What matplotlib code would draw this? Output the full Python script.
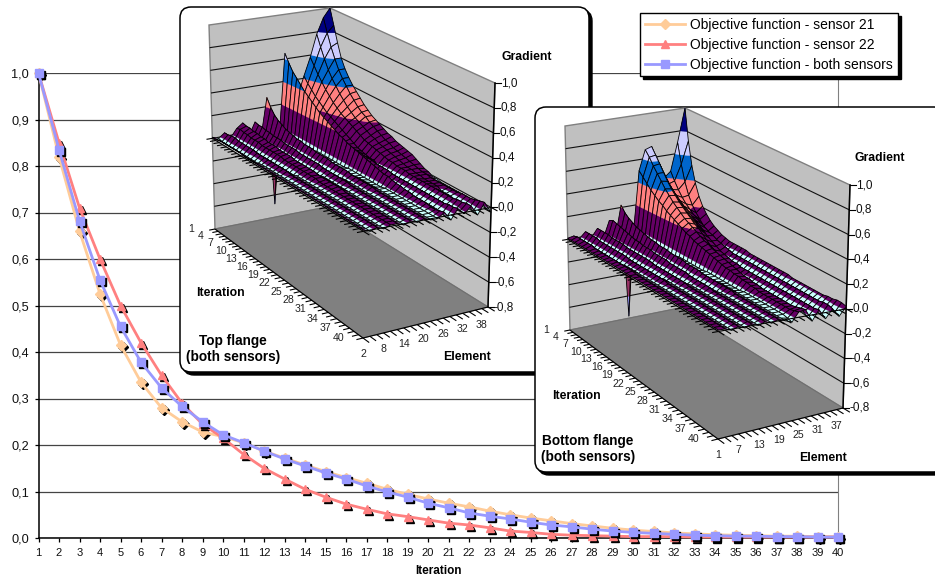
import matplotlib
matplotlib.use("Agg")
import matplotlib.pyplot as plt
import numpy as np
from matplotlib.collections import PolyCollection, LineCollection
from matplotlib.patches import FancyBboxPatch, Polygon
from matplotlib.transforms import offset_copy

plt.rcParams['font.family'] = ['Liberation Sans', 'DejaVu Sans']

iterations = list(range(1, 41))
sensor_21 = [1.0,.82,.66,.525,.415,.335,.28,.25,.228,.218,.205,.187,.172,.157,.143,.13,.118,.105,.094,.084,
             .075,.067,.058,.05,.043,.037,.031,.026,.021,.017,.014,.011,.009,.007,.006,.005,.004,.004,.003,.003]
sensor_22 = [1.0,.85,.71,.6,.5,.42,.35,.29,.245,.215,.18,.15,.127,.105,.088,.073,.062,.052,.046,.039,
             .032,.028,.022,.015,.012,.008,.006,.005,.004,.003,.003,.003,.002,.002,.002,.002,.002,.002,.002,.002]
both_sensors = [1.0,.835,.682,.555,.455,.378,.323,.283,.25,.222,.205,.187,.17,.155,.14,.127,.112,.099,.088,.075,
                .065,.054,.047,.041,.034,.028,.024,.019,.015,.012,.01,.008,.006,.005,.004,.004,.003,.003,.002,.002]
series_names = ['Objective function - sensor 21', 'Objective function - sensor 22', 'Objective function - both sensors']
y_ticks = [0, .1, .2, .3, .4, .5, .6, .7, .8, .9, 1.0]
z_ticks = [-.8, -.6, -.4, -.2, 0, .2, .4, .6, .8, 1.0]
top_element_labels = [2, 8, 14, 20, 26, 32, 38]
bottom_element_labels = [1, 7, 13, 19, 25, 31, 37]
iteration_labels = [1, 4, 7, 10, 13, 16, 19, 22, 25, 28, 31, 34, 37, 40]

# gradient surfaces, hundredths: one row per element, one value per iteration
top_flange = [
 [1,1,2,2,2,2,2,2,2,1, 1,1,1,1,1,1,1,1,1,1, 1,1,1,1,1,1,1,1,1,1, 1,1,1,1,1,1,1,1,1,1],
 [-1,-2,-2,-2,-2,-2,-2,-2,-2,-2, -2,-2,-1,-1,-1,-1,-1,-1,-1,-1, -1,-1,-1,-1,-1,-1,-1,-1,-1,-1, -1,-1,-1,-1,-1,-1,-1,-1,-1,-1],
 [3,3,4,4,3,3,3,3,3,2, 2,2,2,2,2,2,2,2,1,1, 1,1,1,1,1,1,1,1,1,1, 1,1,1,1,1,1,1,1,1,1],
 [-2,-3,-3,-3,-3,-3,-3,-2,-2,-2, -2,-2,-2,-2,-2,-2,-2,-2,-1,-1, -1,-1,-1,-1,-1,-1,-1,-1,-1,-1, -1,-1,-1,-1,-1,-1,-1,-1,-1,-1],
 [5,6,5,5,4,4,4,3,3,3, 3,3,3,2,2,2,2,2,2,2, 2,2,1,1,1,1,1,1,1,1, 1,1,1,1,1,1,1,1,1,1],
 [9,8,8,7,7,6,6,5,5,5, 4,4,4,4,3,3,3,3,3,3, 2,2,2,2,2,2,2,1,1,1, 1,1,1,1,1,1,1,1,1,1],
 [-3,-3,-3,-3,-3,-3,-3,-3,-3,-3, -2,-2,-2,-2,-2,-2,-2,-2,-2,-2, -1,-1,-1,-1,-1,-1,-1,-1,-1,-1, -1,-1,-1,-1,-1,-1,-1,-1,-1,-1],
 [8,7,7,6,6,5,5,5,4,4, 4,4,3,3,3,3,3,3,2,2, 2,2,2,2,2,1,1,1,1,1, 1,1,1,1,1,1,1,1,1,1],
 [-4,-4,-4,-4,-4,-3,-3,-3,-3,-3, -3,-3,-3,-2,-2,-2,-2,-2,-2,-2, -2,-2,-1,-1,-1,-1,-1,-1,-1,-1, -1,-1,-1,-1,-1,-1,-1,-1,-1,-1],
 [28,21,16,13,11,9,8,7,6,6, 5,5,5,4,4,4,4,3,3,3, 3,3,2,2,2,2,2,2,1,1, 1,1,1,1,1,1,1,1,1,1],
 [-68,-10,-5,-4,-4,-3,-3,-3,-3,-3, -3,-2,-2,-2,-2,-2,-2,-2,-2,-2, -2,-2,-1,-1,-1,-1,-1,-1,-1,-1, -1,-1,-1,-1,-1,-1,-1,-1,-1,-1],
 [-3,-3,-4,-4,-4,-4,-4,-4,-4,-4, -3,-3,-3,-3,-3,-3,-3,-3,-2,-2, -2,-2,-2,-2,-2,-2,-2,-1,-1,-1, -1,-1,-1,-1,-1,-1,-1,-1,-1,-1],
 [65,58,52,48,44,40,37,34,31,28, 26,24,22,20,18,17,15,14,13,12, 11,10,9,8,7,6,6,5,4,4, 3,3,2,2,2,2,1,1,2,3],
 [-5,-5,-5,-5,-5,-5,-5,-4,-4,-4, -4,-4,-4,-4,-3,-3,-3,-3,-3,-3, -3,-3,-2,-2,-2,-2,-2,-2,-2,-2, -2,-2,-2,-2,-2,-2,-2,-3,-4,-4],
 [25,22,20,18,16,14,12,11,10,9, 8,7,6,6,5,5,5,4,4,4, 3,3,3,3,2,2,2,2,2,2, 2,2,2,2,2,2,2,3,3,4],
 [42,37,33,29,26,23,20,18,16,14, 12,10,8,6,4,3,2,1,1,-1, -1,-2,-2,-2,-2,-2,-2,-2,-2,-2, -2,-2,-2,-2,-2,-2,-2,-2,-1,-1],
 [58,52,46,41,36,32,28,25,22,20, 18,16,14,12,10,9,8,7,6,5, 4,4,3,3,3,2,2,2,2,2, 2,2,2,2,2,2,3,3,4,4],
 [78,68,59,51,45,40,35,31,27,24, 21,19,17,15,13,12,10,9,8,7, 6,5,4,3,3,2,2,1,1,1, 1,-1,-1,-1,-2,-2,-2,-3,-3,-4],
 [92,80,69,60,52,46,41,36,32,28, 25,23,20,18,16,14,12,11,9,8, 7,6,5,4,3,2,2,1,1,1, 1,1,1,1,2,2,2,3,4,5],
 [100,86,72,60,52,46,41,37,33,29, 26,23,21,19,17,15,14,12,11,10, 9,8,6,4,2,1,-1,-1,-2,-2, -2,-2,-2,-2,-3,-3,-3,-3,-3,-4],
]
bottom_flange = [
 [1,1,1,1,1,1,1,1,1,1, 1,1,1,1,1,1,1,1,1,1, 1,1,1,1,1,1,1,1,1,1, 1,1,1,1,1,1,1,1,1,1],
 [2,3,3,3,3,3,2,2,2,2, 2,2,2,2,2,2,2,1,1,1, 1,1,1,1,1,1,1,1,1,1, 1,1,1,1,1,1,1,1,1,1],
 [-1,-2,-2,-2,-2,-2,-2,-2,-2,-2, -2,-2,-2,-1,-1,-1,-1,-1,-1,-1, -1,-1,-1,-1,-1,-1,-1,-1,-1,-1, -1,-1,-1,-1,-1,-1,-1,-1,-1,-1],
 [4,4,4,4,3,3,3,3,3,3, 3,3,2,2,2,2,2,2,2,2, 2,2,1,1,1,1,1,1,1,1, 1,1,1,1,1,1,1,1,1,1],
 [-2,-3,-3,-3,-3,-3,-3,-3,-3,-3, -2,-2,-2,-2,-2,-2,-2,-2,-2,-2, -1,-1,-1,-1,-1,-1,-1,-1,-1,-1, -1,-1,-1,-1,-1,-1,-1,-1,-1,-1],
 [5,5,5,5,4,4,4,4,3,3, 3,3,3,3,3,2,2,2,2,2, 2,2,2,2,1,1,1,1,1,1, 1,1,1,1,1,1,1,1,1,1],
 [-4,-4,-4,-4,-3,-3,-3,-3,-3,-3, -3,-3,-3,-2,-2,-2,-2,-2,-2,-2, -2,-2,-2,-1,-1,-1,-1,-1,-1,-1, -1,-1,-1,-1,-1,-1,-1,-1,-1,-1],
 [10,12,11,10,9,8,7,6,6,5, 5,5,4,4,4,4,3,3,3,3, 3,2,2,2,2,2,2,1,1,1, 1,1,1,1,1,1,1,1,1,1],
 [-5,-5,-5,-5,-5,-5,-4,-4,-4,-4, -4,-4,-3,-3,-3,-3,-3,-3,-3,-2, -2,-2,-2,-2,-2,-2,-2,-1,-1,-1, -1,-1,-1,-1,-1,-1,-1,-1,-1,-1],
 [22,17,14,12,10,9,8,7,6,6, 5,5,5,4,4,4,4,3,3,3, 3,2,2,2,2,2,2,2,2,1, 1,1,1,1,1,1,1,1,1,1],
 [-78,-15,-6,-5,-4,-4,-4,-3,-3,-3, -3,-3,-3,-3,-2,-2,-2,-2,-2,-2, -2,-2,-2,-2,-1,-1,-1,-1,-1,-1, -1,-1,-1,-1,-1,-1,-1,-1,-1,-1],
 [-3,-3,-5,-5,-5,-5,-4,-4,-4,-4, -4,-4,-3,-3,-3,-3,-3,-3,-3,-2, -2,-2,-2,-2,-2,-2,-2,-2,-1,-1, -1,-1,-1,-1,-1,-1,-1,-1,-2,-3],
 [50,46,42,38,35,32,30,27,25,23, 21,19,17,16,14,13,12,11,10,9, 8,7,6,6,5,5,4,4,3,3, 2,2,2,2,2,2,2,2,3,4],
 [68,63,57,52,47,42,38,34,31,28, 25,23,21,19,17,15,14,12,11,10, 9,8,7,6,5,4,4,3,3,2, 2,2,2,2,2,2,2,3,4,5],
 [70,64,58,52,46,41,37,33,30,27, 24,21,19,16,13,10,8,5,3,2, 1,1,-1,-1,-2,-2,-2,-2,-2,-2, -2,-2,-2,-2,-3,-3,-3,-3,-4,-5],
 [55,50,45,40,36,32,28,25,22,20, 18,16,14,12,10,8,6,5,4,3, 3,2,2,2,2,2,2,2,2,2, 2,2,2,2,2,2,2,2,2,3],
 [40,36,33,30,27,24,22,19,17,15, 12,9,6,3,1,-1,-2,-2,-3,-3, -3,-3,-3,-3,-3,-3,-3,-3,-3,-2, -2,-2,-2,-2,-3,-3,-3,-3,-4,-5],
 [45,38,32,27,23,20,17,15,13,11, 9,8,6,5,4,3,2,2,2,2, 2,2,2,2,2,2,2,2,2,2, 2,2,2,2,2,2,2,3,3,2],
 [70,52,38,28,21,16,12,8,5,3, 1,-1,-2,-2,-3,-3,-3,-3,-3,-3, -3,-3,-3,-3,-3,-3,-3,-3,-3,-3, -3,-3,-3,-3,-3,-3,-3,-3,-4,-5],
 [100,72,52,38,28,21,16,12,9,7, 5,4,3,3,3,3,3,2,2,2, 2,2,2,2,2,2,2,1,1,1, 1,1,1,1,1,2,2,3,3,2],
]

band_edges = [-.8, -.6, -.4, -.2, 0, .2, .4, .6, .8, 1.0]
band_colors = ['#9999FF', '#993366', '#FFFFCC', '#CCFFFF', '#660066', '#FF8080', '#0066CC', '#CCCCFF', '#000080']
main_colors = ['#FFCC99', '#FF8080', '#9999FF']

W, H = 935, 580
fig = plt.figure(figsize=(W / 100, H / 100), dpi=100)
fig.patch.set_facecolor('white')


def px_rect(l, t, r, b):
    return [l / W, 1 - b / H, (r - l) / W, (b - t) / H]


# ---- main line chart
ax = fig.add_axes(px_rect(38.5, 73, 838, 538))
ax.set_xlim(1, 40)
ax.set_ylim(0, 1)
for s in ['top']:
    ax.spines[s].set_visible(False)
ax.spines['right'].set_color('#808080')
ax.spines['left'].set_linewidth(1.1)
ax.spines['bottom'].set_linewidth(1.1)
ax.set_yticks(y_ticks, [f'{v:.1f}'.replace('.', ',') for v in y_ticks], fontsize=9.2)
ax.set_xticks(iterations, [str(i) for i in iterations], fontsize=8)
ax.tick_params(axis='both', length=3, width=0.9, pad=4, labelcolor='#111111')
ax.grid(axis='y', color='#444444', lw=0.9)
ax.set_axisbelow(True)
ax.text(0.5, -0.0715, 'Iteration', transform=ax.transAxes, ha='center', va='center', fontsize=8.5, fontweight='bold')
shadow = offset_copy(ax.transData, fig=fig, x=2, y=-2, units='dots')
handles = []
for vals, col, mk, ms in zip([sensor_21, sensor_22, both_sensors], main_colors, ['D', '^', 's'], [4.6, 6, 6]):
    ax.plot(iterations, vals, ls='none', marker=mk, ms=ms, color='k', transform=shadow, clip_on=False, zorder=3)
    h, = ax.plot(iterations, vals, color=col, lw=2, marker=mk, ms=ms, mec=col, mfc=col, clip_on=False, zorder=3)
    handles.append(h)

# ---- inset 3-D panels on a pixel canvas
ov = fig.add_axes([0, 0, 1, 1], zorder=2)
ov.set_xlim(0, W)
ov.set_ylim(H, 0)
ov.axis('off')


def quad_map(c):
    # projective map of the unit square onto corners at (0,0),(1,0),(1,1),(0,1)
    src = [(0, 0), (1, 0), (1, 1), (0, 1)]
    A, b = [], []
    for (u, v), (x, y) in zip(src, c):
        A.append([u, v, 1, 0, 0, 0, -u * x, -v * x]); b.append(x)
        A.append([0, 0, 0, u, v, 1, -u * y, -v * y]); b.append(y)
    p = np.linalg.solve(np.array(A, float), np.array(b, float))
    def f(u, v):
        d = p[6] * u + p[7] * v + 1
        return (p[0] * u + p[1] * v + p[2]) / d, (p[3] * u + p[4] * v + p[5]) / d
    return f


def clip(poly, level, keep_above):
    out = []
    n = len(poly)
    for i in range(n):
        a, b = poly[i], poly[(i + 1) % n]
        ina = a[2] >= level if keep_above else a[2] <= level
        inb = b[2] >= level if keep_above else b[2] <= level
        if ina:
            out.append(a)
        if ina != inb:
            t = (level - a[2]) / (b[2] - a[2])
            out.append((a[0] + t * (b[0] - a[0]), a[1] + t * (b[1] - a[1]), level))
    return out


def panel(box, floor, top, matrix, elem_labels, elem_first, title, title_xy, grad_xy, iter_xy, elem_xy,
          lab_iter_off, lab_elem_off):
    l, t, r, b = box
    ov.add_patch(FancyBboxPatch((l + 3, t + 3), r - l, b - t, boxstyle='round,pad=0,rounding_size=11',
                                fc='k', ec='k', lw=1, zorder=1))
    ov.add_patch(FancyBboxPatch((l, t), r - l, b - t, boxstyle='round,pad=0,rounding_size=11',
                                fc='white', ec='k', lw=1.1, zorder=1))
    F, G = quad_map(floor), quad_map(top)
    zlo, zhi = z_ticks[0], z_ticks[-1]

    def P(u, v, z):
        w = (z - zlo) / (zhi - zlo)
        fx, fy = F(u, v)
        gx, gy = G(u, v)
        return (1 - w) * fx + w * gx, (1 - w) * fy + w * gy

    # walls and floor
    z0 = 2
    ov.add_patch(Polygon([P(0, 0, zlo), P(0, 1, zlo), P(0, 1, zhi), P(0, 0, zhi)], fc='#C0C0C0', ec='#808080', lw=1, zorder=z0))
    ov.add_patch(Polygon([P(0, 1, zlo), P(1, 1, zlo), P(1, 1, zhi), P(0, 1, zhi)], fc='#C0C0C0', ec='#808080', lw=1, zorder=z0))
    ov.add_patch(Polygon([P(0, 0, zlo), P(1, 0, zlo), P(1, 1, zlo), P(0, 1, zlo)], fc='#808080', ec='#707070', lw=.8, zorder=z0))
    grid = []
    for z in z_ticks[1:-1]:
        grid.append([P(0, 0, z), P(0, 1, z), P(1, 1, z)])
    ov.add_collection(LineCollection(grid, colors='#111111', lw=.8, zorder=z0 + .1))
    ov.plot(*zip(P(1, 1, zlo), P(1, 1, zhi)), color='k', lw=1.1, zorder=z0 + .2)

    # surface (painter's order, far corner first)
    Z = np.array(matrix, float) / 100
    ne, ni = Z.shape
    polys, faces, edges, widths = [], [], [], []
    none = (0, 0, 0, 0)
    for i in range(ni - 1):
        for j in range(ne - 2, -1, -1):
            u0, u1 = i / (ni - 1), (i + 1) / (ni - 1)
            v0, v1 = j / (ne - 1), (j + 1) / (ne - 1)
            q = [(u0, v0, Z[j, i]), (u1, v0, Z[j, i + 1]), (u1, v1, Z[j + 1, i + 1]), (u0, v1, Z[j + 1, i])]
            for k, c in enumerate(band_colors):
                part = clip(clip(q, band_edges[k], True), band_edges[k + 1], False)
                if len(part) >= 3:
                    polys.append([P(*p) for p in part])
                    faces.append(matplotlib.colors.to_rgba(c))
                    edges.append(matplotlib.colors.to_rgba(c))
                    widths.append(.2)
            polys.append([P(*p) for p in q])
            faces.append(none)
            edges.append((0, 0, 0, 1))
            widths.append(.6)
    ov.add_collection(PolyCollection(polys, facecolors=faces, edgecolors=edges, linewidths=widths, zorder=z0 + .3))

    # axes: floor edges and z=0 crossing edges, with ticks
    segs = []
    for z in (zlo, 0):
        segs.append([P(0, 0, z), P(1, 0, z)])
        segs.append([P(1, 0, z), P(1, 1, z)])
        for i in range(ni):
            u = i / (ni - 1)
            segs.append([P(u, 0, z), P(u, -.05, z)])
        for j in range(ne):
            v = j / (ne - 1)
            segs.append([P(1, v, z), P(1.035, v, z)])
    ov.add_collection(LineCollection(segs, colors='k', lw=.8, zorder=z0 + .4))
    for z in z_ticks:
        x, y = P(1, 1, z)
        ov.plot([x, x + 6], [y, y], color='k', lw=.8, zorder=z0 + .4)
        ov.text(x + 6, y, f'{z:.1f}'.replace('.', ','), fontsize=8.5, va='center', ha='left', color='#111111', zorder=5)
    for n in iteration_labels:
        x, y = P((n - 1) / (ni - 1), 0, zlo)
        ov.text(x + lab_iter_off[0], y + lab_iter_off[1], str(n), fontsize=7.6, ha='center', va='center', color='#222222', zorder=5)
    for n in elem_labels:
        x, y = P(1, (n - elem_first) / 2 / (ne - 1), zlo)
        ov.text(x + lab_elem_off[0], y + lab_elem_off[1], str(n), fontsize=7.6, ha='center', va='center', color='#222222', zorder=5)
    ov.text(*grad_xy, 'Gradient', fontsize=8.8, fontweight='bold', ha='center', va='center', zorder=5)
    ov.text(*iter_xy, 'Iteration', fontsize=8.8, fontweight='bold', ha='center', va='center', zorder=5)
    ov.text(*elem_xy, 'Element', fontsize=8.8, fontweight='bold', ha='center', va='center', zorder=5)
    ov.text(*title_xy, title, fontsize=9.8, fontweight='bold', ha='center', va='center', linespacing=1.25, zorder=5)


panel((180, 7, 589, 372),
      [(215, 229), (363, 338), (488, 307), (327, 207)],
      [(209, 25), (364, 98), (495, 83), (330, 8)],
      top_flange, top_element_labels, 2, 'Top flange\n(both sensors)', (233, 349), (527, 57), (220, 293), (467, 357),
      (-24, 0), (0, 16))

# second panel drawn over the first
class _Dummy: pass
panel((535, 107, 945, 472),
      [(570, 330), (718, 439), (843, 408), (680, 308)],
      [(565, 126), (719, 197), (850, 185), (685, 108)],
      bottom_flange, bottom_element_labels, 1, 'Bottom flange\n(both sensors)', (588, 449), (880, 158), (576, 396), (823, 458),
      (-24, 0), (0, 16))

# ---- legend
leg = fig.legend(handles, series_names, loc='upper left', bbox_to_anchor=(640 / W, 1 - 13 / H), bbox_transform=fig.transFigure,
                 fontsize=10, fancybox=False, framealpha=1, edgecolor='k', borderaxespad=0, handlelength=2.9,
                 handletextpad=.35, labelspacing=.42, borderpad=.35,
                 shadow={'ox': 2.2, 'oy': -2.2, 'facecolor': 'k', 'edgecolor': 'k', 'alpha': 1})
leg.set_zorder(10)
leg.get_frame().set_linewidth(1)

fig.savefig('out.png', dpi=100)
